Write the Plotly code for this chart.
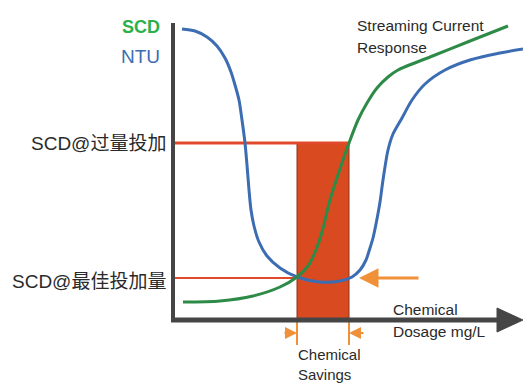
import plotly.graph_objects as go

# ---- data (arbitrary units: dosage on x, response on y) ----
ntu_dose = [9, 22, 34, 44, 52, 58, 62, 66, 69, 72, 74, 76, 78, 81, 86, 94, 107, 124, 147,
            167, 179, 187, 193, 197, 200, 203, 207, 210, 215, 220, 229, 239, 252, 272,
            297, 327, 350]
ntu_value = [291, 289, 283, 274, 262, 248, 235, 220, 200, 177, 155, 130, 110, 94, 78, 64,
             52, 43, 38, 39, 43, 50, 60, 72, 82, 96, 118, 140, 170, 186, 202, 220, 236,
             250, 260, 267, 271]
scd_dose = [10, 47, 80, 107, 124, 135, 143, 149, 157, 164, 170, 176, 185, 194, 204, 215,
            225, 257, 297, 335]
scd_value = [18, 19, 24, 33, 43, 54, 70, 88, 120, 142, 160, 177, 200, 217, 232, 243, 250,
             263, 279, 294]

optimal_dose = 124
over_dose = 176
scd_optimal = 42
scd_over = 177

axis_x_end = 350
axis_y_end = 297

labels_y = ["SCD", "NTU"]
label_over = "SCD@过量投加"
label_opt = "SCD@最佳投加量"
label_curve = ["Streaming Current", "Response"]
label_xaxis = ["Chemical", "Dosage mg/L"]
label_savings = ["Chemical", "Savings"]

# ---- colours ----
BLUE = "#3c6db3"
GREEN = "#2e8b47"
RED = "#e04a2a"
RECT = "#d94a20"
ORANGE = "#f0913a"
AXIS = "#454545"
TXT = "#2a2a2a"
LAT = "Liberation Sans, Noto Sans CJK SC, sans-serif"

fig = go.Figure()

fig.add_trace(go.Scatter(x=ntu_dose, y=ntu_value, mode="lines",
                         line=dict(color=BLUE, width=3, shape="spline", smoothing=0.8),
                         hoverinfo="skip", showlegend=False))
fig.add_trace(go.Scatter(x=scd_dose, y=scd_value, mode="lines",
                         line=dict(color=GREEN, width=3, shape="spline", smoothing=0.8),
                         hoverinfo="skip", showlegend=False))

shapes = []
# savings rectangle
shapes.append(dict(type="rect", x0=optimal_dose, x1=over_dose, y0=0, y1=scd_over,
                   fillcolor=RECT, line=dict(color="#8a3518", width=1), layer="below"))
# red reference lines
shapes.append(dict(type="line", x0=0, x1=over_dose, y0=scd_over, y1=scd_over,
                   line=dict(color=RED, width=3), layer="below"))
shapes.append(dict(type="line", x0=0, x1=optimal_dose, y0=scd_optimal, y1=scd_optimal,
                   line=dict(color=RED, width=2), layer="below"))
# orange vertical markers below axis
for xd in (optimal_dose, over_dose):
    shapes.append(dict(type="line", x0=xd, x1=xd, y0=0, y1=-25,
                       line=dict(color=ORANGE, width=2), layer="below"))
# axes
shapes.append(dict(type="line", x0=0, x1=0, y0=-2, y1=axis_y_end,
                   line=dict(color=AXIS, width=4), layer="above"))
shapes.append(dict(type="line", x0=-2, x1=axis_x_end - 20, y0=0, y1=0,
                   line=dict(color=AXIS, width=5), layer="above"))
# arrow head of x axis
hx0 = axis_x_end - 26
shapes.append(dict(type="path",
                   path=f"M {hx0},12 L {axis_x_end},0 L {hx0},-12 Z",
                   fillcolor=AXIS, line=dict(color=AXIS, width=1), layer="above"))

annotations = []
# orange arrows
annotations.append(dict(x=186, y=scd_optimal, ax=247, ay=scd_optimal,
                        xref="x", yref="y", axref="x", ayref="y",
                        showarrow=True, arrowhead=2, arrowsize=1.3, arrowwidth=3,
                        arrowcolor=ORANGE, text=""))
annotations.append(dict(x=optimal_dose, y=-13, ax=110, ay=-13,
                        xref="x", yref="y", axref="x", ayref="y",
                        showarrow=True, arrowhead=2, arrowsize=1.2, arrowwidth=2,
                        arrowcolor=ORANGE, text=""))
annotations.append(dict(x=over_dose, y=-13, ax=192, ay=-13,
                        xref="x", yref="y", axref="x", ayref="y",
                        showarrow=True, arrowhead=2, arrowsize=1.2, arrowwidth=2,
                        arrowcolor=ORANGE, text=""))

def txt(x, y, s, xanchor, size, color=TXT, bold=False):
    if bold:
        s = f"<b>{s}</b>"
    annotations.append(dict(x=x, y=y, xref="x", yref="y", text=s, showarrow=False,
                            xanchor=xanchor, yanchor="middle", align="left",
                            font=dict(family=LAT, size=size, color=color)))

txt(-11, 293, labels_y[0], "right", 18, "#2ab04a", bold=True)
txt(-11, 264, labels_y[1], "right", 19, BLUE)
txt(-5, scd_over, label_over, "right", 19)
txt(-5, 39, label_opt, "right", 19)
txt(182, 295, label_curve[0], "left", 15.5)
txt(182, 273, label_curve[1], "left", 15.5)
txt(218, 11, label_xaxis[0], "left", 15.5)
txt(218, -11, label_xaxis[1], "left", 15.5)
txt(123, -34, label_savings[0], "left", 15)
txt(123, -54, label_savings[1], "left", 15)

fig.update_layout(
    width=523, height=384,
    margin=dict(l=0, r=0, t=0, b=0),
    paper_bgcolor="white", plot_bgcolor="white",
    xaxis=dict(range=[-173, 350], visible=False, fixedrange=True),
    yaxis=dict(range=[-64, 320], visible=False, fixedrange=True),
    shapes=shapes, annotations=annotations,
    showlegend=False,
)

fig.write_html("out.html")
